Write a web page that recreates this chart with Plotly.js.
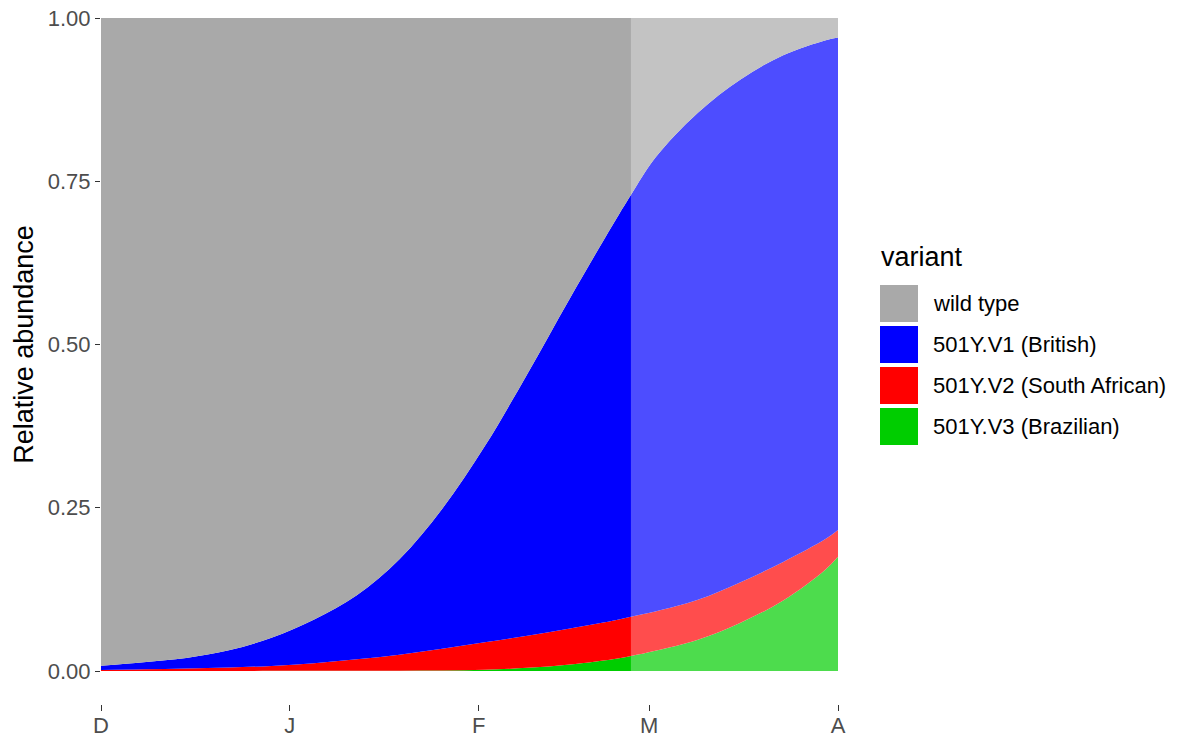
<!DOCTYPE html>
<html>
<head>
<meta charset="utf-8">
<script src="https://cdn.plot.ly/plotly-3.0.1.min.js"></script>
<style>html,body{margin:0;padding:0;background:#fff;}#chart{width:1187px;height:740px;}</style>
</head>
<body>
<div id="chart"></div>
<script>
// ---- data ----
const dates = ['2020-12-01','2020-12-08','2020-12-15','2020-12-22','2020-12-29','2021-01-05','2021-01-12','2021-01-19','2021-01-26','2021-02-02','2021-02-09','2021-02-16','2021-02-23','2021-02-26','2021-03-02','2021-03-09','2021-03-16','2021-03-23','2021-03-30','2021-04-01'];
const brazilian = [0.00002,0.00004,0.00008,0.00015,0.0002,0.0003,0.0004,0.0005,0.0007,0.0018,0.0048,0.010,0.018,0.023,0.031,0.048,0.074,0.108,0.156,0.175];
const southAfrican = [0.0015,0.0025,0.0036,0.0051,0.0076,0.0117,0.0176,0.0245,0.0333,0.0422,0.0492,0.055,0.059,0.060,0.060,0.061,0.062,0.059,0.0465,0.041];
const british = [0.0065,0.011,0.0163,0.0265,0.0432,0.067,0.098,0.146,0.214,0.300,0.401,0.506,0.606,0.646,0.695,0.746,0.770,0.776,0.7635,0.754];
const wildType = [0.992,0.9865,0.980,0.9682,0.949,0.921,0.884,0.829,0.752,0.656,0.545,0.429,0.317,0.271,0.214,0.145,0.094,0.057,0.034,0.030];
const seriesNames = ['501Y.V3 (Brazilian)','501Y.V2 (South African)','501Y.V1 (British)','wild type'];
const seriesColors = ['#00CD00','#FF0000','#0000FF','#A9A9A9'];
const legendOrder = ['wild type','501Y.V1 (British)','501Y.V2 (South African)','501Y.V3 (Brazilian)'];
const legendTitle = 'variant';
const projectionStart = '2021-02-26';
const xRange = ['2020-12-01','2021-04-01'];
const xTickVals = ['2020-12-01','2021-01-01','2021-02-01','2021-03-01','2021-04-01'];
const xTickText = ['D','J','F','M','A'];
const yTickVals = [0,0.25,0.5,0.75,1];
const yTickText = ['0.00','0.25','0.50','0.75','1.00'];

// ---- layout geometry (pixels) ----
const W = 1187, H = 740;
const M = {l:101, r:349, t:18, b:36};
const plotW = W - M.l - M.r, plotH = H - M.t - M.b;
const panelBottomPx = 671;
const yDomLow = (H - M.b - panelBottomPx) / plotH;
const px2x = px => (px - M.l) / plotW;
const px2y = py => (H - M.b - py) / plotH;
const FONT = 'Arial, "Liberation Sans", sans-serif';

const values = [brazilian, southAfrican, british, wildType];
const traces = values.map((v, i) => ({
  type: 'scatter', mode: 'lines', x: dates, y: v, name: seriesNames[i],
  stackgroup: 'one', line: {width: 0, shape: 'spline', smoothing: 1, color: seriesColors[i]},
  fillcolor: seriesColors[i], showlegend: false, hoverinfo: 'x+y+name'
}));

const shapes = [{
  type: 'rect', xref: 'x', yref: 'y', x0: projectionStart, x1: xRange[1], y0: 0, y1: 1,
  fillcolor: 'rgba(255,255,255,0.3)', line: {width: 0}, layer: 'above'
}];
const annotations = [{
  xref: 'paper', yref: 'paper', x: px2x(879), y: px2y(257), xanchor: 'left', yanchor: 'middle',
  text: legendTitle, showarrow: false, font: {family: FONT, size: 27, color: '#000000'}
}];
const keyTop = 285, keyStep = 41, keyW = 38, keyH = 37;
legendOrder.forEach((name, k) => {
  const idx = seriesNames.indexOf(name);
  const top = keyTop + k * keyStep;
  shapes.push({type: 'rect', xref: 'paper', yref: 'paper', x0: px2x(880), x1: px2x(880 + keyW),
    y0: px2y(top + keyH), y1: px2y(top), fillcolor: seriesColors[idx], line: {width: 0}, layer: 'above'});
  annotations.push({xref: 'paper', yref: 'paper', x: px2x(931), y: px2y(top + keyH / 2),
    xanchor: 'left', yanchor: 'middle', text: name, showarrow: false,
    font: {family: FONT, size: 22, color: '#000000'}});
});

const layout = {
  width: W, height: H, margin: M, paper_bgcolor: '#ffffff', plot_bgcolor: '#ffffff',
  showlegend: false, font: {family: FONT},
  xaxis: {type: 'date', range: xRange, tickvals: xTickVals, ticktext: xTickText,
    ticks: 'outside', ticklen: 6, tickwidth: 1, tickcolor: '#333333', ticklabelstandoff: -4,
    tickfont: {family: FONT, size: 22, color: '#4D4D4D'}, showgrid: false, zeroline: false,
    showline: false, anchor: 'free', position: 0, fixedrange: true},
  yaxis: {range: [0, 1], domain: [yDomLow, 1], tickvals: yTickVals, ticktext: yTickText,
    ticks: 'outside', ticklen: 5, tickwidth: 1, tickcolor: '#333333',
    tickfont: {family: FONT, size: 22, color: '#4D4D4D'}, showgrid: false, zeroline: false,
    showline: false, fixedrange: true,
    title: {text: 'Relative abundance', font: {family: FONT, size: 27, color: '#000000'}, standoff: 6}},
  shapes: shapes, annotations: annotations
};
Plotly.newPlot('chart', traces, layout, {displayModeBar: false, staticPlot: true});
</script>
</body>
</html>
